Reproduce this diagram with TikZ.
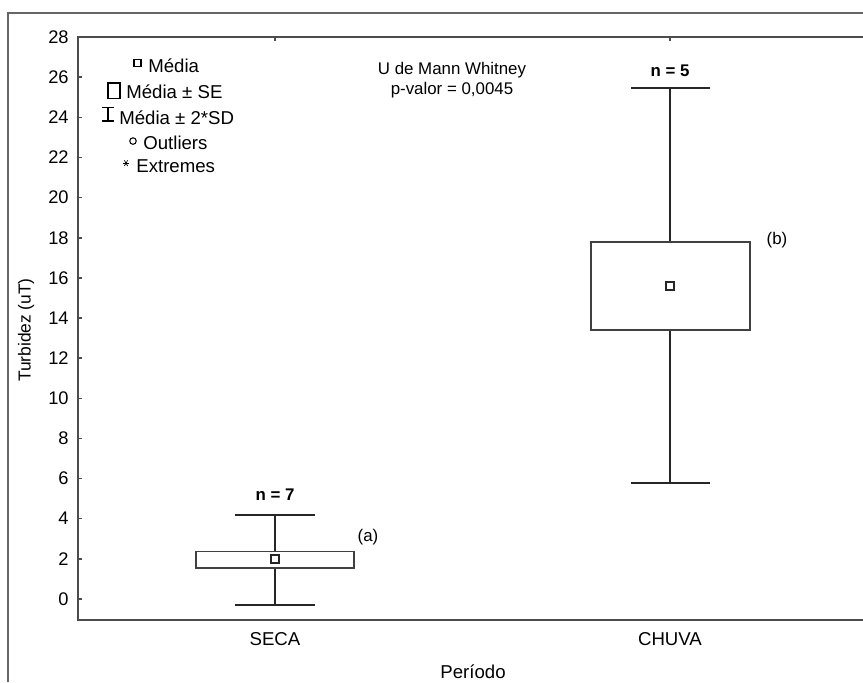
\documentclass[tikz,border=0pt]{standalone}
\usepackage{fontspec}
\setmainfont{Liberation Sans}
\usepackage{tikz}
\usetikzlibrary{positioning, calc}

\tikzset{
  axisline/.style={draw=black!70, line width=0.9pt},
  frameline/.style={draw=black!60, line width=1.1pt},
  whisk/.style={draw=black!85, line width=0.7pt},
  boxse/.style={draw=black!75, line width=0.8pt, fill=white},
  meanmark/.style={draw=black!85, line width=0.9pt, fill=white},
  lbl/.style={font=\fontsize{9.6}{11}\selectfont, inner sep=0pt},
  biglbl/.style={font=\fontsize{10.6}{12}\selectfont, inner sep=0pt},
  ticklbl/.style={font=\fontsize{10.4}{12}\selectfont, inner sep=0pt, anchor=east},
  leglbl/.style={biglbl, anchor=west},
  ntxt/.style={lbl, font=\fontsize{9.6}{11}\selectfont\bfseries}
}

\begin{document}
\begin{tikzpicture}[x=0.02cm, y=0.4014cm]
  \useasboundingbox (0,-4.14) rectangle (863,29.85);

  % outer frame
  \draw[frameline] (8,-4.14) -- (8,29.2) -- (863,29.2);

  % plot area
  \draw[axisline] (863,28) -- (78,28) -- (78,-1.05) -- (863,-1.05);
  \foreach \v in {0,2,...,28}{
    \draw[axisline] (78,\v) -- (82,\v);
    \node[ticklbl] (yt\v) at (69,\v) {\v};
  }
  \draw[axisline] (275,28) -- (275,27.8);
  \draw[axisline] (670,28) -- (670,27.8);

  % axis labels
  \node[lbl, rotate=90, font=\fontsize{9.9}{11}\selectfont] (ylab) at (26,13.4) {Turbidez (uT)};
  \node[biglbl] (seca) at (275,-2.0) {SECA};
  \node[biglbl] (chuva) at (670,-2.0) {CHUVA};
  \node[biglbl] (xlab) at (473,-3.62) {Período};

  % SECA
  \draw[whisk] (275,4.18) -- (275,-0.3);
  \draw[whisk] (235,4.18) -- (315,4.18);
  \draw[whisk] (235,-0.3) -- (315,-0.3);
  \draw[boxse] (196,1.55) rectangle (354,2.38);
  \draw[meanmark] (271,1.8) rectangle (279,2.2);
  \node[ntxt] (nseca) at (275,5.2) {n = 7};
  \node[lbl] (ga) at (368,3.08) {(a)};

  % CHUVA
  \draw[whisk] (670,25.46) -- (670,5.78);
  \draw[whisk] (631,25.46) -- (710,25.46);
  \draw[whisk] (631,5.78) -- (710,5.78);
  \draw[boxse] (591,13.4) rectangle (750,17.79);
  \draw[meanmark] (666,15.4) rectangle (674,15.8);
  \node[ntxt] (nchuva) at (670,26.3) {n = 5};
  \node[lbl] (gb) at (777,17.9) {(b)};

  % teste
  \node[lbl, align=center] (teste) at (452,25.86) {U de Mann Whitney\\p-valor = 0,0045};

  % legenda
  \draw[line width=0.7pt] (134,26.53) rectangle (141,26.88);
  \node[leglbl] (lmed) at (148,26.55) {Média};
  \draw[line width=0.7pt] (108,24.96) rectangle (120,25.71);
  \node[leglbl] (lse) at (126,25.28) {Média ± SE};
  \draw[line width=0.7pt] (108,23.82) -- (108,24.51);
  \draw[line width=0.7pt] (102,24.51) -- (114,24.51);
  \draw[line width=0.7pt] (102,23.82) -- (114,23.82);
  \node[leglbl] (lsd) at (119,24.0) {Média ± 2*SD};
  \draw[line width=0.6pt] (133,22.82) circle (0.065cm);
  \node[leglbl] (lout) at (143,22.75) {Outliers};
  \foreach \a in {0,60,120}{
    \draw[line width=0.4pt] ($(126,21.72)+(\a:0.065cm)$) -- ($(126,21.72)+(\a+180:0.065cm)$);
  }
  \node[leglbl] (lext) at (136,21.55) {Extremes};
\end{tikzpicture}
\end{document}
